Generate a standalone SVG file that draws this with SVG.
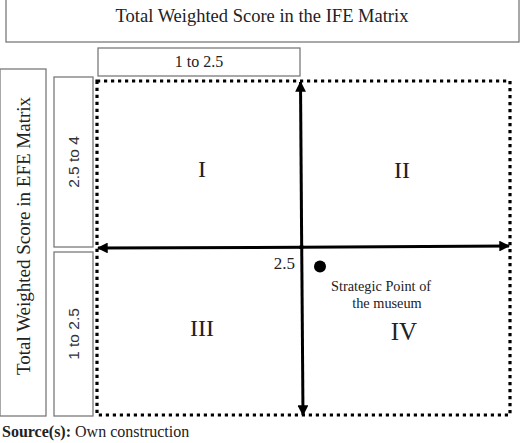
<svg xmlns="http://www.w3.org/2000/svg" width="520" height="443" viewBox="0 0 520 443">
<style>
.box{fill:#fff;stroke:#7a7a7a;stroke-width:1.3}
.t{font-family:"Liberation Serif","Times New Roman",serif;fill:#222}
.s{font-family:"Liberation Sans",Arial,sans-serif;fill:#333}
.ax{stroke:#000;stroke-width:3;fill:none}
.dot{fill:none;stroke:#000;stroke-width:3.2;stroke-dasharray:3.2 3.8}
</style>
<defs>
<marker id="ah" viewBox="0 0 10 10" refX="9" refY="5" markerWidth="3.6" markerHeight="3.6" orient="auto" markerUnits="strokeWidth">
<path d="M0,0 L10,5 L0,10 Z" fill="#000"/>
</marker>
</defs>
<rect width="520" height="443" fill="#fff"/>
<g id="title">
<rect class="box" x="6" y="-1" width="513" height="43"/>
<text class="t" x="262" y="22" font-size="18.5" text-anchor="middle">Total Weighted Score in the IFE Matrix</text>
</g>
<g id="xrange">
<rect class="box" x="98" y="48" width="202" height="28"/>
<text class="t" x="199" y="67" font-size="16" text-anchor="middle">1 to 2.5</text>
</g>
<g id="ylabel">
<rect class="box" x="0" y="69" width="46" height="347"/>
<text class="t" transform="translate(30,236) rotate(-90)" font-size="19" text-anchor="middle">Total Weighted Score in EFE Matrix</text>
</g>
<g id="yhigh">
<rect class="box" x="54" y="77" width="39" height="170"/>
<text class="s" transform="translate(79,162) rotate(-90)" font-size="15.5" text-anchor="middle">2.5 to 4</text>
</g>
<g id="ylow">
<rect class="box" x="54" y="252" width="39" height="164"/>
<text class="s" transform="translate(79,334) rotate(-90)" font-size="15.5" text-anchor="middle">1 to 2.5</text>
</g>
<g id="matrix">
<rect class="dot" x="97" y="81" width="413" height="334"/>
</g>
<g id="connectors">
<line class="ax" x1="301.7" y1="249" x2="300.5" y2="82" marker-end="url(#ah)"/>
<line class="ax" x1="301.7" y1="245" x2="303" y2="415" marker-end="url(#ah)"/>
<line class="ax" x1="303" y1="247.2" x2="98" y2="248" marker-end="url(#ah)"/>
<line class="ax" x1="299" y1="247.2" x2="509" y2="246" marker-end="url(#ah)"/>
</g>
<g id="q1"><text class="t" x="202" y="177" font-size="24" text-anchor="middle">I</text></g>
<g id="q2"><text class="t" x="402" y="178" font-size="24" text-anchor="middle">II</text></g>
<g id="q3"><text class="t" x="202" y="336" font-size="24" text-anchor="middle">III</text></g>
<g id="q4"><text class="t" x="404" y="340" font-size="25" text-anchor="middle">IV</text></g>
<g id="center"><text class="t" x="295" y="269" font-size="17" text-anchor="end">2.5</text></g>
<g id="point">
<circle cx="320" cy="266.5" r="6" fill="#000"/>
<text class="t" x="331" y="291" font-size="14.3">Strategic Point of</text>
<text class="t" x="387" y="308" font-size="14.3" text-anchor="middle">the museum</text>
</g>
<g id="source">
<text class="t" x="2" y="437" font-size="16"><tspan font-weight="bold">Source(s):</tspan> Own construction</text>
</g>
</svg>
